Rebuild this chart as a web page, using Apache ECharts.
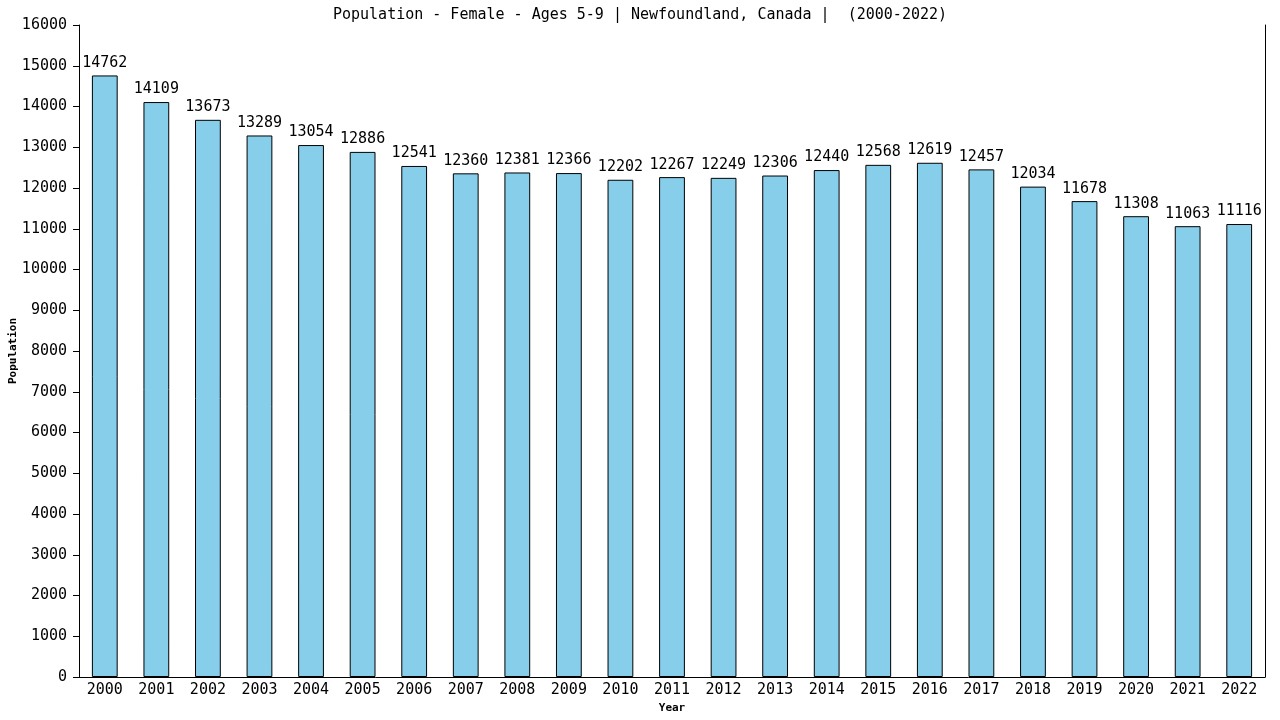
<!DOCTYPE html>
<html><head><meta charset="utf-8">
<script src="https://cdn.jsdelivr.net/npm/echarts@6/dist/echarts.min.js"></script>
<style>html,body{margin:0;padding:0;background:#fff}#c{width:1280px;height:720px}</style>
</head><body><div id="c"></div>
<script>
const titleText = "Population - Female - Ages 5-9 | Newfoundland, Canada |  (2000-2022)";
const years = ["2000","2001","2002","2003","2004","2005","2006","2007","2008","2009","2010","2011","2012","2013","2014","2015","2016","2017","2018","2019","2020","2021","2022"];
const population = [14762,14109,13673,13289,13054,12886,12541,12360,12381,12366,12202,12267,12249,12306,12440,12568,12619,12457,12034,11678,11308,11063,11116];
const yMin = 0, yMax = 16000, yStep = 1000;
const FONT = "DejaVu Sans Mono";
const chart = echarts.init(document.getElementById('c'));
chart.setOption({
  animation: false,
  backgroundColor: '#fff',
  title: { text: titleText, left: 'center', top: 3, textStyle: { fontFamily: FONT, fontSize: 15, fontWeight: 'normal', color: '#000' } },
  grid: { left: 79, right: 15, top: 25, bottom: 43, show: false, containLabel: false, outerBoundsMode: 'none' },
  xAxis: {
    type: 'category', data: years, name: 'Year', nameLocation: 'middle', nameGap: 26, nameMoveOverlap: false,
    nameTextStyle: { fontFamily: FONT, fontSize: 11, fontWeight: 'bold', color: '#000' },
    axisLine: { lineStyle: { color: '#000', width: 1 } },
    axisTick: { show: false },
    axisLabel: { fontFamily: FONT, fontSize: 15, color: '#000', margin: 6, interval: 0 }
  },
  yAxis: [{
    type: 'value', min: yMin, max: yMax, interval: yStep, name: 'Population', nameLocation: 'middle', nameGap: 60, nameMoveOverlap: false,
    nameTextStyle: { fontFamily: FONT, fontSize: 11, fontWeight: 'bold', color: '#000' },
    axisLine: { show: true, lineStyle: { color: '#000', width: 1 } },
    axisTick: { show: true, length: 6, lineStyle: { color: '#000' } },
    splitLine: { show: false },
    axisLabel: { fontFamily: FONT, fontSize: 15, color: '#000', margin: 12, formatter: v => String(v) }
  }, {
    type: 'value', min: yMin, max: yMax, interval: yStep, position: 'right',
    axisLine: { show: true, lineStyle: { color: '#000', width: 1 } },
    axisTick: { show: false }, axisLabel: { show: false }, splitLine: { show: false }
  }],
  series: [{
    type: 'bar', data: population, barWidth: '50%',
    itemStyle: { color: '#87CEEB', borderColor: '#000', borderWidth: 1 },
    label: { show: true, position: 'top', distance: 5, fontFamily: FONT, fontSize: 15, color: '#000' }
  }]
});
</script></body></html>
